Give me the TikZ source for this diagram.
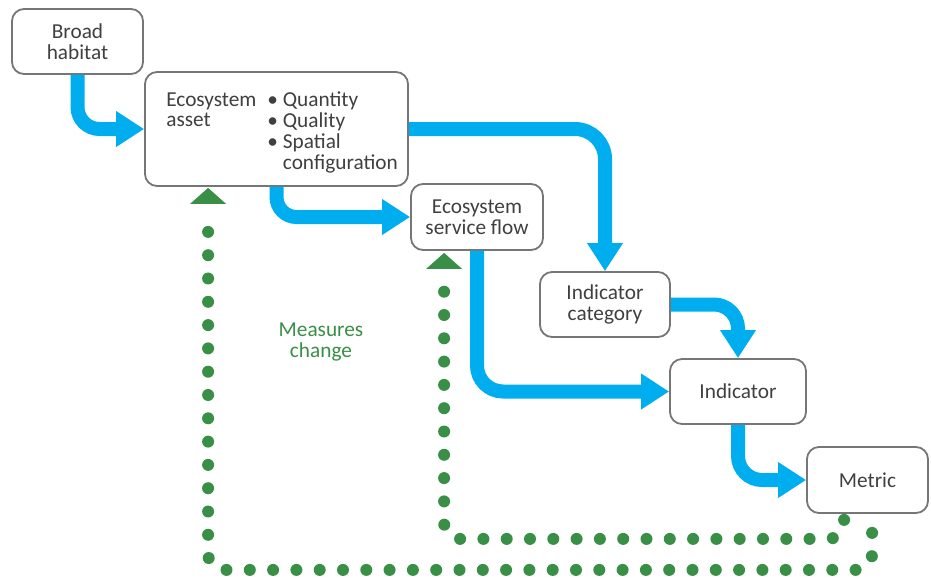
\documentclass[tikz,border=0pt]{standalone}
\usepackage{fontspec}
\setmainfont{Carlito}
\usetikzlibrary{arrows.meta}
\definecolor{flowblue}{RGB}{0,174,239}
\definecolor{dotgreen}{RGB}{58,143,71}
\definecolor{boxgray}{RGB}{118,118,118}
\definecolor{txtgray}{RGB}{64,64,64}
\begin{document}
\begin{tikzpicture}[x=1pt,y=-1pt,
  box/.style={draw=boxgray, line width=1.8pt, rounded corners=12pt, fill=white,
    text=txtgray, align=center, font=\fontsize{21.3}{20.7}\selectfont, inner sep=0pt},
  flow/.style={draw=flowblue, line width=14pt, rounded corners=22pt,
    -{Triangle[width=34pt,length=28pt]}},
  dots/.style={draw=dotgreen, line width=12pt, line cap=round, rounded corners=16pt,
    dash pattern=on 0pt off 23.3pt},
  txt/.style={text=txtgray, font=\fontsize{21.3}{20.7}\selectfont, inner sep=0pt},
  gtxt/.style={text=dotgreen, font=\fontsize{21.3}{20.7}\selectfont, inner sep=0pt, align=center}
]
\useasboundingbox (0,0) rectangle (931,579);
\fill[white] (0,0) rectangle (931,579);

% boxes
\node[box, minimum width=131pt, minimum height=65pt] (bh) at (77.5,41.5) {Broad\\habitat};
\node[box, minimum width=263pt, minimum height=114pt] (ea) at (276.5,129) {};
\node[box, minimum width=132pt, minimum height=66pt] (esf) at (477,217) {Ecosystem\\service flow};
\node[box, minimum width=130pt, minimum height=65pt] (ic) at (605,304.5) {Indicator\\category};
\node[box, minimum width=136pt, minimum height=65pt] (ind) at (738,391.5) {Indicator};
\node[box, minimum width=121pt, minimum height=66pt] (met) at (867.5,480) {Metric};

% text inside ecosystem asset
\node[txt, anchor=base west] (eal) at ([xshift=22pt,yshift=-35pt]ea.north west)
  {\begin{tabular}[t]{@{}l@{}}Ecosystem\\asset\end{tabular}};
\node[txt, anchor=base west] (eali) at ([xshift=123pt,yshift=-35pt]ea.north west)
  {\begin{tabular}[t]{@{}l@{\hspace{5pt}}l@{}}\textbullet & Quantity\\ \textbullet & Quality\\ \textbullet & Spatial\\ & configuration\end{tabular}};

% blue flow arrows
\draw[flow] (bh.south) |- (ea.west);
\draw[flow, rounded corners=20pt] (ea.south) |- (esf.west);
\draw[flow, rounded corners=30pt] (ea.east) -| (ic.north);
\draw[flow, rounded corners=24pt] (ic.east) -| (ind.north);
\draw[flow, rounded corners=26pt] (esf.south) |- (ind.west);
\draw[flow, rounded corners=24pt] (ind.south) |- (met.west);

% green dotted feedback lines
\draw[dots] ([xshift=66pt,yshift=-19pt]met.south west) -- ++(0,37) -| ([xshift=64pt,yshift=-33pt]ea.south west);
\fill[dotgreen] ([xshift=64pt,yshift=-1pt]ea.south west) -- ++(-18,16) -- ++(36,0) -- cycle;
\draw[dots] ([xshift=38pt,yshift=-6pt]met.south west) -- ++(0,19) -| ([xshift=34pt,yshift=-35pt]esf.south west);
\fill[dotgreen] ([xshift=34pt,yshift=-2pt]esf.south west) -- ++(-18,16) -- ++(36,0) -- cycle;

\node[gtxt] (mc) at (321,342) {Measures\\change};
\end{tikzpicture}
\end{document}
